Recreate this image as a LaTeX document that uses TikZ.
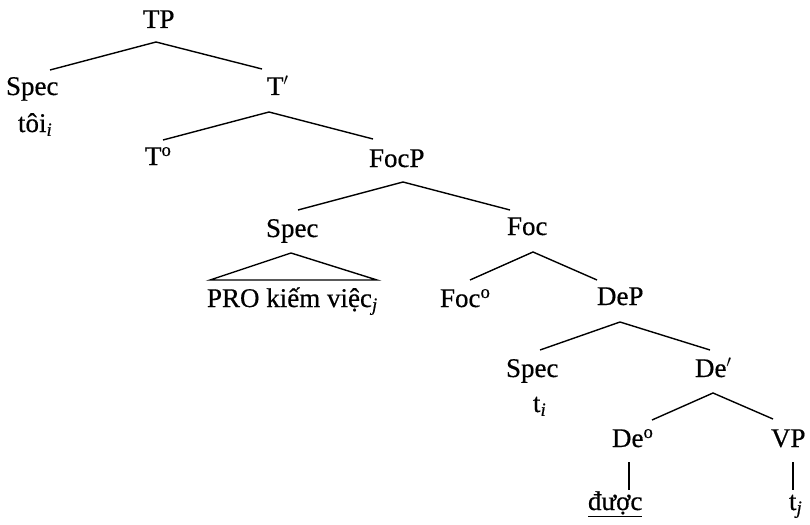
\documentclass[tikz,border=0pt]{standalone}
\usepackage{fontspec}
\setmainfont{Liberation Serif}[FakeBold=0.5]
\newfontfamily\heavy{Liberation Serif}[FakeBold=0.5]
\begin{document}
\begin{tikzpicture}[x=1pt,y=-1pt,
  lab/.style={anchor=base west,inner sep=0pt,outer sep=0pt,font=\heavy\fontsize{27}{31}\selectfont},
  br/.style={line width=1.4pt}]
\useasboundingbox (0,0) rectangle (810,524);
\node[lab] (TP) at (143,28) {TP};
\node[lab] (SpecA) at (6,95) {Spec};
\node[lab] (toi) at (18,132) {tôi\textsubscript{\textit{i}}};
\node[lab] (Tbar) at (267,95) {T$'$};
\node[lab] (T0) at (145,165) {T\textsuperscript{o}};
\node[lab] (FocP) at (369,167) {FocP};
\node[lab] (SpecB) at (266,237) {Spec};
\node[lab] (PRO) at (207,307) {PRO kiếm việc\textsubscript{\textit{j}}};
\node[lab] (Foc) at (507,235) {Foc};
\node[lab] (Foc0) at (440,307) {Foc\textsuperscript{o}};
\node[lab] (DeP) at (597,305) {DeP};
\node[lab] (SpecC) at (506,377) {Spec};
\node[lab] (ti) at (533,412) {t\textsubscript{\textit{i}}};
\node[lab] (Debar) at (695,377) {De$'$};
\node[lab] (De0) at (612,447) {De\textsuperscript{o}};
\node[lab] (VP) at (771,447) {VP};
\node[lab] (duoc) at (588,510) {\underline{được}};
\node[lab] (tj) at (789,510) {t\textsubscript{\textit{j}}};

\draw[br] ([shift={(44,-25)}]SpecA.base west) -- ([shift={(13,14)}]TP.base west) -- ([shift={(-5,-26)}]Tbar.base west);
\draw[br] ([shift={(18,-25)}]T0.base west) -- ([shift={(2,17)}]Tbar.base west) -- ([shift={(4,-28)}]FocP.base west);
\draw[br] ([shift={(32,-27)}]SpecB.base west) -- ([shift={(34,15)}]FocP.base west) -- ([shift={(3,-25)}]Foc.base west);
\draw[br] ([shift={(3,-27)}]PRO.base west) -- ([shift={(25,16)}]SpecB.base west) -- ([shift={(170,-27)}]PRO.base west) -- cycle;
\draw[br] ([shift={(30,-27)}]Foc0.base west) -- ([shift={(26,17)}]Foc.base west) -- ([shift={(0,-25)}]DeP.base west);
\draw[br] ([shift={(34,-27)}]SpecC.base west) -- ([shift={(23,17)}]DeP.base west) -- ([shift={(15,-27)}]Debar.base west);
\draw[br] ([shift={(40,-27)}]De0.base west) -- ([shift={(18,16)}]Debar.base west) -- ([shift={(2,-28)}]VP.base west);
\draw[br] ([shift={(17,15)}]De0.base west) -- ([shift={(41,-20)}]duoc.base west);
\draw[br] ([shift={(22,15)}]VP.base west) -- ([shift={(4,-20)}]tj.base west);
\end{tikzpicture}
\end{document}
